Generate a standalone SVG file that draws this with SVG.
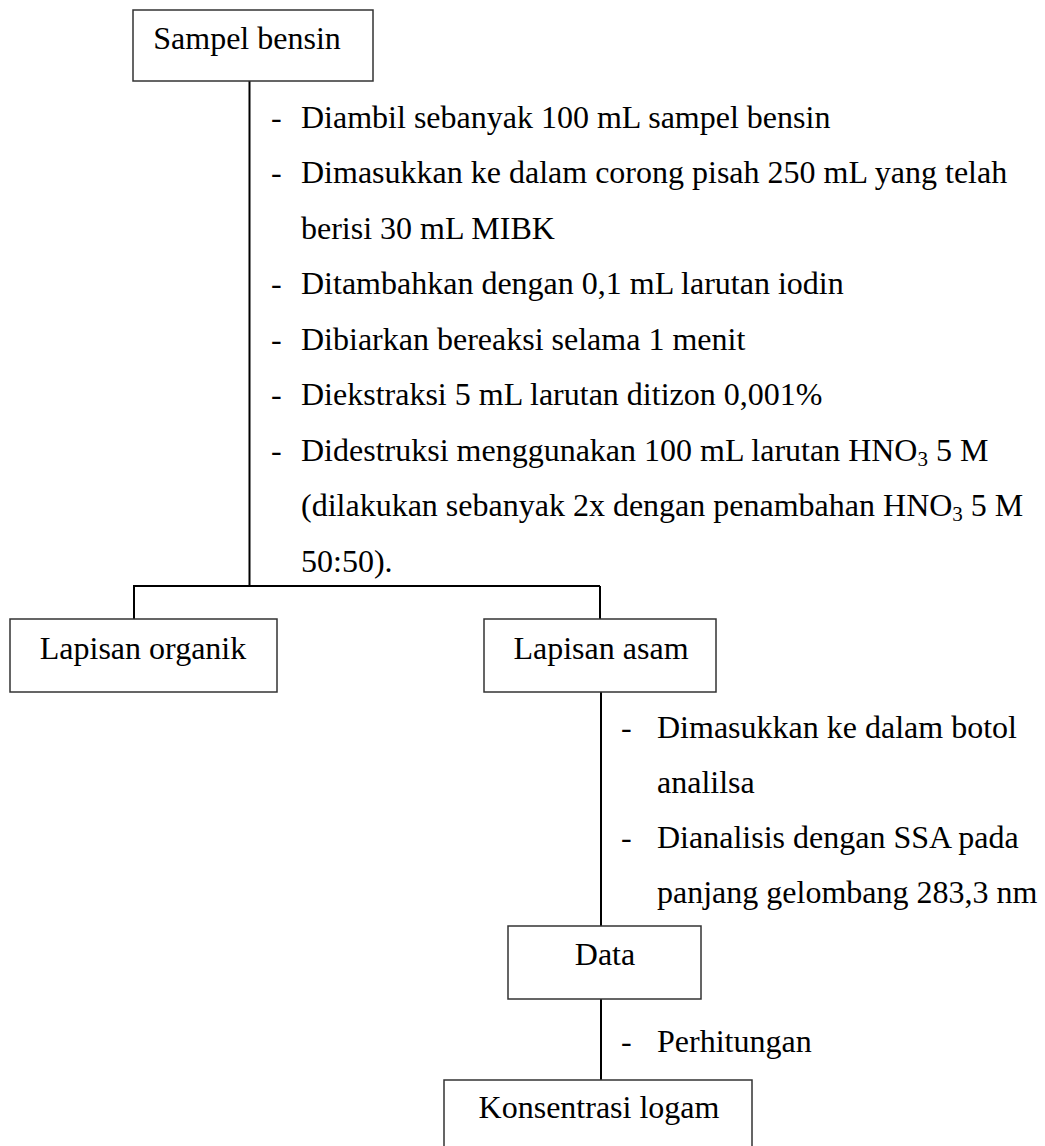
<svg xmlns="http://www.w3.org/2000/svg" width="1045" height="1146" viewBox="0 0 1045 1146">
<style>
.box{fill:#fff;stroke:#333;stroke-width:1.5}
.ln{stroke:#000;stroke-width:2;fill:none}
text{font-family:"Liberation Serif","Times New Roman",serif;font-size:32px;fill:#000}
.c{text-anchor:middle}
</style>
<rect width="1045" height="1146" fill="#fff"/>
<g id="connectors">
<line class="ln" x1="249.5" y1="81" x2="249.5" y2="586"/>
<line class="ln" x1="133" y1="586" x2="600" y2="586"/>
<line class="ln" x1="134" y1="586" x2="134" y2="619"/>
<line class="ln" x1="600" y1="586" x2="600" y2="619"/>
<line class="ln" x1="601" y1="692" x2="601" y2="926"/>
<line class="ln" x1="601" y1="999" x2="601" y2="1080"/>
</g>
<g id="node-sampel">
<rect class="box" x="133" y="10" width="240" height="71"/>
<text class="c" x="247" y="49">Sampel bensin</text>
</g>
<g id="steps-1">
<text x="271" y="127.5">-</text><text x="301" y="127.5">Diambil sebanyak 100 mL sampel bensin</text>
<text x="271" y="183">-</text><text x="301" y="183">Dimasukkan ke dalam corong pisah 250 mL yang telah</text>
<text x="301" y="238.5">berisi 30 mL MIBK</text>
<text x="271" y="294">-</text><text x="301" y="294">Ditambahkan dengan 0,1 mL larutan iodin</text>
<text x="271" y="349.5">-</text><text x="301" y="349.5">Dibiarkan bereaksi selama 1 menit</text>
<text x="271" y="405">-</text><text x="301" y="405">Diekstraksi 5 mL larutan ditizon 0,001%</text>
<text x="271" y="460.5">-</text><text x="301" y="460.5">Didestruksi menggunakan 100 mL larutan HNO<tspan font-size="21" dy="5">3</tspan><tspan dy="-5"> 5 M</tspan></text>
<text x="301" y="516">(dilakukan sebanyak 2x dengan penambahan HNO<tspan font-size="21" dy="5">3</tspan><tspan dy="-5"> 5 M</tspan></text>
<text x="301" y="571.5">50:50).</text>
</g>
<g id="node-organik">
<rect class="box" x="10" y="619" width="267" height="73"/>
<text class="c" x="143" y="659">Lapisan organik</text>
</g>
<g id="node-asam">
<rect class="box" x="484" y="619" width="232" height="73"/>
<text class="c" x="601" y="659">Lapisan asam</text>
</g>
<g id="steps-2">
<text x="621" y="737.5">-</text><text x="657" y="737.5">Dimasukkan ke dalam botol</text>
<text x="657" y="793">analilsa</text>
<text x="621" y="848">-</text><text x="657" y="848">Dianalisis dengan SSA pada</text>
<text x="657" y="903">panjang gelombang 283,3 nm</text>
</g>
<g id="node-data">
<rect class="box" x="508" y="926" width="193" height="73"/>
<text class="c" x="605" y="965">Data</text>
</g>
<g id="steps-3">
<text x="621" y="1052">-</text><text x="657" y="1052">Perhitungan</text>
</g>
<g id="node-konsentrasi">
<rect class="box" x="444" y="1080" width="308" height="90"/>
<text class="c" x="599" y="1118">Konsentrasi logam</text>
</g>
</svg>
